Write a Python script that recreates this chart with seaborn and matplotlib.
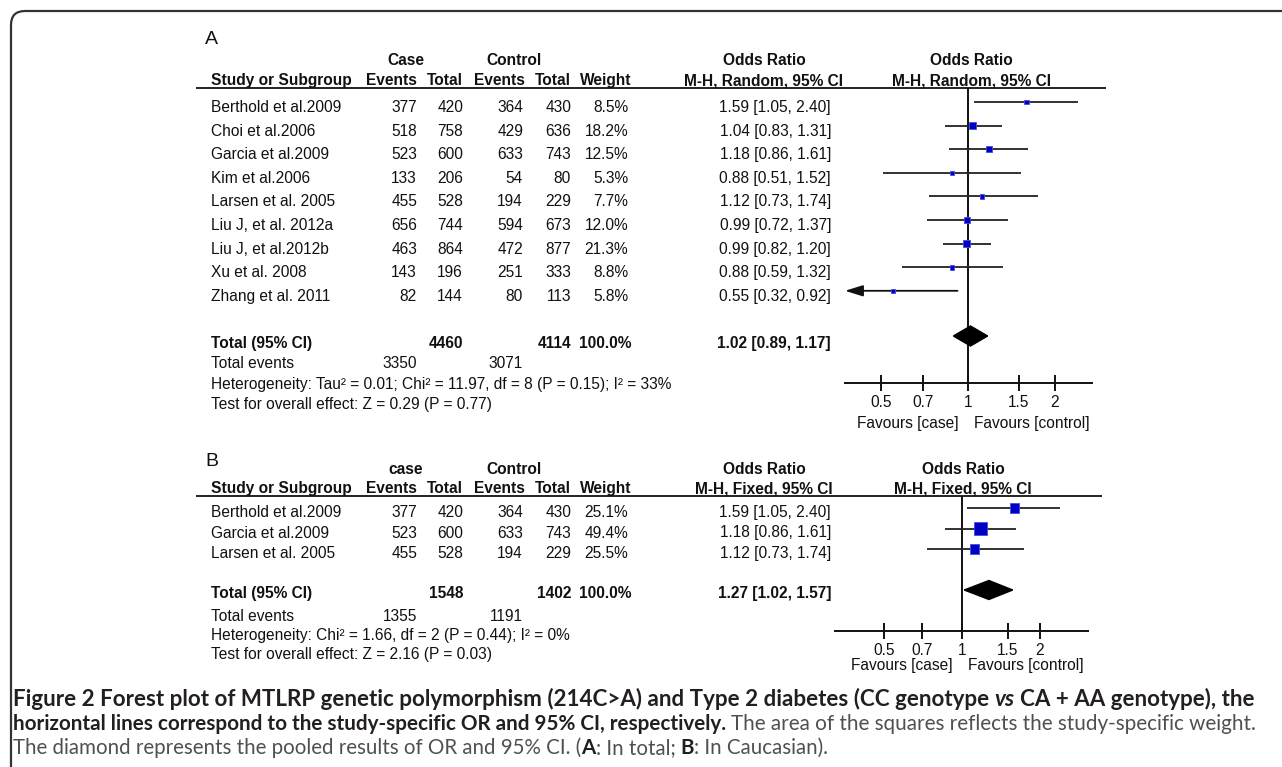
import numpy as np
import pandas as pd
import matplotlib
matplotlib.use("Agg")
import matplotlib.pyplot as plt
import seaborn as sns
from matplotlib.path import Path
from matplotlib.patches import PathPatch
from matplotlib.ticker import NullLocator, FixedLocator, FixedFormatter

# ---------------- data ----------------
studies_a = ["Berthold et al.2009", "Choi et al.2006", "Garcia et al.2009", "Kim et al.2006",
             "Larsen et al. 2005", "Liu J, et al. 2012a", "Liu J, et al.2012b", "Xu et al. 2008",
             "Zhang et al. 2011"]
case_events_a = [377, 518, 523, 133, 455, 656, 463, 143, 82]
case_total_a = [420, 758, 600, 206, 528, 744, 864, 196, 144]
ctrl_events_a = [364, 429, 633, 54, 194, 594, 472, 251, 80]
ctrl_total_a = [430, 636, 743, 80, 229, 673, 877, 333, 113]
weight_a = [8.5, 18.2, 12.5, 5.3, 7.7, 12.0, 21.3, 8.8, 5.8]
or_a = [1.59, 1.04, 1.18, 0.88, 1.12, 0.99, 0.99, 0.88, 0.55]
lo_a = [1.05, 0.83, 0.86, 0.51, 0.73, 0.72, 0.82, 0.59, 0.32]
hi_a = [2.40, 1.31, 1.61, 1.52, 1.74, 1.37, 1.20, 1.32, 0.92]
total_a = dict(case_total=4460, ctrl_total=4114, weight=100.0, est=1.02, lo=0.89, hi=1.17,
               case_events=3350, ctrl_events=3071)
het_a = "Heterogeneity: Tau\u00b2 = 0.01; Chi\u00b2 = 11.97, df = 8 (P = 0.15); I\u00b2 = 33%"
test_a = "Test for overall effect: Z = 0.29 (P = 0.77)"

studies_b = ["Berthold et al.2009", "Garcia et al.2009", "Larsen et al. 2005"]
case_events_b = [377, 523, 455]
case_total_b = [420, 600, 528]
ctrl_events_b = [364, 633, 194]
ctrl_total_b = [430, 743, 229]
weight_b = [25.1, 49.4, 25.5]
or_b = [1.59, 1.18, 1.12]
lo_b = [1.05, 0.86, 0.73]
hi_b = [2.40, 1.61, 1.74]
total_b = dict(case_total=1548, ctrl_total=1402, weight=100.0, est=1.27, lo=1.02, hi=1.57,
               case_events=1355, ctrl_events=1191)
het_b = "Heterogeneity: Chi\u00b2 = 1.66, df = 2 (P = 0.44); I\u00b2 = 0%"
test_b = "Test for overall effect: Z = 2.16 (P = 0.03)"

tick_vals = [0.5, 0.7, 1, 1.5, 2]
tick_labels = ["0.5", "0.7", "1", "1.5", "2"]

caption1 = [("Figure 2 Forest plot of MTLRP genetic polymorphism (214C>A) and Type 2 diabetes (CC genotype", "b", True),
            ("vs", "bi", True), ("CA + AA genotype), the", "b", True)]
caption2 = [("horizontal lines correspond to the study-specific OR and 95% CI, respectively.", "b", True),
            ("The area of the squares reflects the study-specific weight.", "r", True)]
caption3 = [("The diamond represents the pooled results of OR and 95% CI. (", "r", True),
            ("A", "b", False), (": In total;", "r", False), ("B", "b", True), (": In Caucasian).", "r", False)]

# ---------------- figure ----------------
W, H = 1282, 767
sns.set_theme(style="white")
plt.rcParams["font.family"] = ["Liberation Sans", "DejaVu Sans"]
fig = plt.figure(figsize=(W / 100, H / 100), dpi=100)
fig.patch.set_facecolor("white")
base = fig.add_axes([0, 0, 1, 1])
base.set_xlim(0, W)
base.set_ylim(H, 0)
base.axis("off")

FS = 11.2
TXT = "#111111"


def T(x, y, s, ha="left", bold=False, fs=FS, **kw):
    return base.text(x, y, s, ha=ha, va="baseline", fontsize=fs,
                     fontweight="bold" if bold else "normal", color=TXT, **kw)


# frame (top + left with rounded corner)
r = 14
verts = [(11, H + 5), (11, 11 + r), (11, 11), (11 + r, 11), (W + 5, 11)]
codes = [Path.MOVETO, Path.LINETO, Path.CURVE3, Path.CURVE3, Path.LINETO]
base.add_patch(PathPatch(Path(verts, codes), fill=False, lw=1.6, edgecolor="#333333"))


def panel(cfg):
    L = cfg
    cols = dict(ce=417, ct=463, oe=523, ot=571, w=628, orr=831)
    name_x = 211
    T(205, L["label_y"], L["label"], fs=14)
    T(406, L["grp_y"], L["case_word"], ha="center", bold=True)
    T(514, L["grp_y"], "Control", ha="center", bold=True)
    T(764, L["grp_y"], "Odds Ratio", ha="center", bold=True)
    T(L["rc"], L["grp_y"], "Odds Ratio", ha="center", bold=True)
    hy = L["head_y"]
    T(name_x, hy, "Study or Subgroup", bold=True)
    T(cols["ce"], hy, "Events", ha="right", bold=True)
    T(cols["ct"], hy, "Total", ha="right", bold=True)
    T(cols["oe"] + 2, hy, "Events", ha="right", bold=True)
    T(cols["ot"], hy, "Total", ha="right", bold=True)
    T(cols["w"] + 3, hy, "Weight", ha="right", bold=True)
    T(764, hy, L["method"], ha="center", bold=True)
    T(L["rc"], hy, L["method"], ha="center", bold=True)
    base.plot([196, L["line_x1"]], [L["line_y"], L["line_y"]], color="#222222", lw=1.4,
              solid_capstyle="butt")

    n = len(L["studies"])
    ytext = [L["row0"] + L["dy"] * i + L["txt_off"] for i in range(n)]
    for i in range(n):
        y = ytext[i]
        T(name_x, y, L["studies"][i])
        T(cols["ce"], y, str(L["ce"][i]), ha="right")
        T(cols["ct"], y, str(L["ct"][i]), ha="right")
        T(cols["oe"], y, str(L["oe"][i]), ha="right")
        T(cols["ot"], y, str(L["ot"][i]), ha="right")
        T(cols["w"], y, f"{L['w'][i]:.1f}%", ha="right")
        T(cols["orr"], y, f"{L['or'][i]:.2f} [{L['lo'][i]:.2f}, {L['hi'][i]:.2f}]", ha="right")
    tot = L["total"]
    ty = L["tot_y"]
    T(name_x, ty, "Total (95% CI)", bold=True)
    T(cols["ct"], ty, str(tot["case_total"]), ha="right", bold=True)
    T(cols["ot"], ty, str(tot["ctrl_total"]), ha="right", bold=True)
    T(cols["w"] + 3, ty, f"{tot['weight']:.1f}%", ha="right", bold=True)
    T(cols["orr"], ty, f"{tot['est']:.2f} [{tot['lo']:.2f}, {tot['hi']:.2f}]", ha="right", bold=True)
    T(name_x, L["te_y"], "Total events")
    T(cols["ce"], L["te_y"], str(tot["case_events"]), ha="right")
    T(cols["oe"], L["te_y"], str(tot["ctrl_events"]), ha="right")
    T(name_x, L["het_y"], L["het"])
    T(name_x, L["test_y"], L["test"])

    # forest plot axes (pixel-y coordinates, log-x)
    x0, x1, y0, y1 = L["ax_px"]
    ax = fig.add_axes([x0 / W, 1 - y1 / H, (x1 - x0) / W, (y1 - y0) / H])
    ax.patch.set_visible(False)
    ax.set_xscale("log")
    k = L["k"]
    xc = L["x_one"]
    ax.set_xlim(np.exp(-(xc - x0) / k), np.exp((x1 - xc) / k))
    ax.set_ylim(y1, y0)
    xmin = ax.get_xlim()[0]
    for s in ["top", "left", "right"]:
        ax.spines[s].set_visible(False)
    ax.spines["bottom"].set_color("#111111")
    ax.spines["bottom"].set_linewidth(1.4)
    ax.xaxis.set_major_locator(FixedLocator(tick_vals))
    ax.xaxis.set_major_formatter(FixedFormatter(tick_labels))
    ax.xaxis.set_minor_locator(NullLocator())
    ax.set_yticks([])
    ax.tick_params(axis="x", which="major", direction="inout", length=11, width=1.4,
                   color="#111111", pad=3, labelsize=FS, labelcolor=TXT, bottom=True)
    ax.axvline(1, color="#111111", lw=1.4, zorder=1)

    ymark = [L["row0"] + L["dy"] * i for i in range(n)]
    for i in range(n):
        lo, hi = L["lo"][i], L["hi"][i]
        if lo < xmin:
            ax.annotate("", xy=(xmin, ymark[i]), xytext=(hi, ymark[i]),
                        arrowprops=dict(arrowstyle="-|>,head_length=0.9,head_width=0.28",
                                        color="#111111", lw=1.3, shrinkA=0, shrinkB=0,
                                        mutation_scale=12), annotation_clip=False)
        else:
            ax.hlines(ymark[i], lo, hi, color="#222222", lw=1.3, zorder=2)
    df = pd.DataFrame({"or": L["or"], "y": ymark, "w": L["w"]})
    sns.scatterplot(data=df, x="or", y="y", s=np.array(L["w"]) * L["sq"], marker="s",
                    color="#0000C4", edgecolor="#4a4ae0", linewidth=0.6, ax=ax,
                    legend=False, zorder=3, clip_on=False)
    dy = L["dia_y"]
    h = L["dia_h"]
    ax.fill([tot["lo"], tot["est"], tot["hi"], tot["est"]], [dy, dy - h, dy, dy + h],
            color="black", zorder=3, clip_on=False)
    ax.set_xlabel("")
    ax.set_ylabel("")
    T(xc - 9, L["fav_y"], "Favours [case]", ha="right")
    T(xc + 6, L["fav_y"], "Favours [control]", ha="left")


panel(dict(label="A", label_y=44, case_word="Case", grp_y=65, head_y=85, line_y=88, line_x1=1106,
           rc=971, method="M-H, Random, 95% CI",
           studies=studies_a, ce=case_events_a, ct=case_total_a, oe=ctrl_events_a, ot=ctrl_total_a,
           w=weight_a, **{"or": or_a}, lo=lo_a, hi=hi_a, total=total_a, het=het_a, test=test_a,
           row0=102, dy=23.6, txt_off=10, tot_y=348, te_y=368, het_y=389, test_y=409,
           ax_px=(845, 1092, 88, 383), k=125.5, x_one=968, sq=1.35, dia_y=336, dia_h=10,
           fav_y=428))

panel(dict(label="B", label_y=466, case_word="case", grp_y=474, head_y=493, line_y=496, line_x1=1102,
           rc=963, method="M-H, Fixed, 95% CI",
           studies=studies_b, ce=case_events_b, ct=case_total_b, oe=ctrl_events_b, ot=ctrl_total_b,
           w=weight_b, **{"or": or_b}, lo=lo_b, hi=hi_b, total=total_b, het=het_b, test=test_b,
           row0=508, dy=20.5, txt_off=9, tot_y=598, te_y=621, het_y=640, test_y=659,
           ax_px=(835, 1088, 496, 631), k=112.5, x_one=962, sq=1.68, dia_y=590, dia_h=9.5,
           fav_y=670))

# ---------------- caption ----------------
CAP_FONT = ["Lato", "DejaVu Sans"]
renderer = fig.canvas.get_renderer()


def props(kind, fs):
    d = dict(fontsize=fs, family=CAP_FONT, va="baseline", ha="left")
    if kind == "b":
        d.update(fontweight="bold", color="#231f20")
    elif kind == "bi":
        d.update(fontweight="bold", style="italic", color="#231f20")
    else:
        d.update(fontweight="normal", color="#505050")
    return d


def width_of(s, kind, fs):
    t = base.text(0, 0, s, **props(kind, fs))
    w = t.get_window_extent(renderer).width
    t.remove()
    return w


def draw_runs(x, y, parts, fs):
    for j, (s, kind, space_before) in enumerate(parts):
        if j > 0 and space_before:
            x += width_of("a a", kind, fs) - width_of("aa", kind, fs)
        t = base.text(x, y, s, **props(kind, fs))
        x += t.get_window_extent(renderer).width


def total_width(parts, fs):
    w = 0
    for j, (s, kind, sp) in enumerate(parts):
        if j > 0 and sp:
            w += width_of("a a", kind, fs) - width_of("aa", kind, fs)
        w += width_of(s, kind, fs)
    return w


for parts, y, target in [(caption1, 706, 1245), (caption2, 730, 1242), (caption3, 754, 815)]:
    fs = 10 * (target / total_width(parts, 10))
    draw_runs(13, y, parts, fs)

fig.savefig("out.png", dpi=100, facecolor="white")
